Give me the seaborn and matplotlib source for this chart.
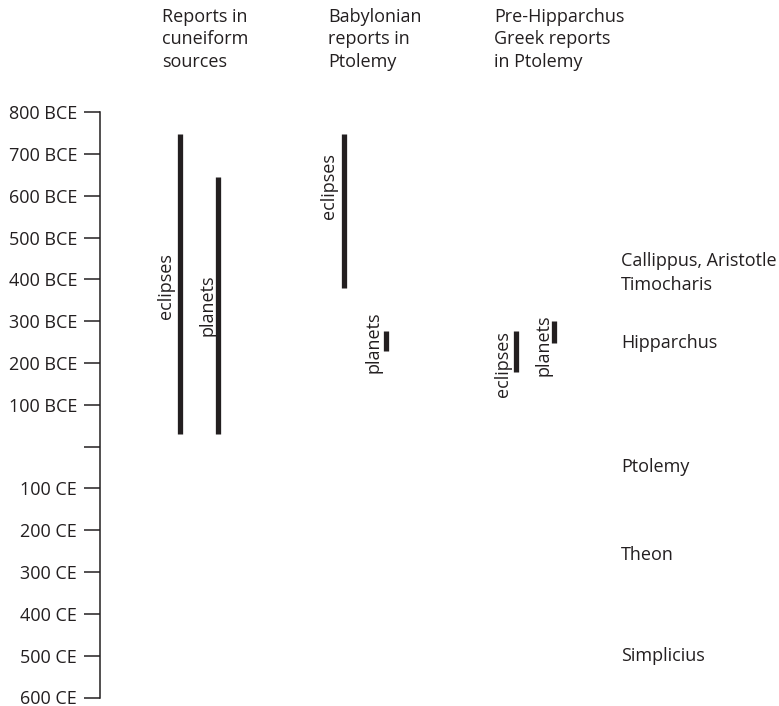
import matplotlib.pyplot as plt
import pandas as pd
import seaborn as sns

# Dados (anos negativos = BCE)
grupos = ["cuneiform", "cuneiform", "babylonian", "babylonian", "greek", "greek"]
tipos = ["eclipses", "planets", "eclipses", "planets", "eclipses", "planets"]
inicio = [-747, -646, -747, -276, -277, -301]
fim = [-31, -31, -380, -230, -178, -247]

cabecalhos = [
    "Reports in\ncuneiform\nsources",
    "Babylonian\nreports in\nPtolemy",
    "Pre-Hipparchus\nGreek reports\nin Ptolemy",
]

anos_ticks = list(range(-800, 601, 100))
rotulos_ticks = ["800 BCE", "700 BCE", "600 BCE", "500 BCE", "400 BCE", "300 BCE",
                 "200 BCE", "100 BCE", "", "100 CE", "200 CE", "300 CE", "400 CE",
                 "500 CE", "600 CE"]

nomes = ["Callippus, Aristotle", "Timocharis", "Hipparchus", "Ptolemy", "Theon", "Simplicius"]
anos_nomes = [-444, -386, -248, 48, 260, 501]

# Layout (em pixels da figura)
W, H = 779, 706
x_barras = {("cuneiform", "eclipses"): 180, ("cuneiform", "planets"): 218,
            ("babylonian", "eclipses"): 344, ("babylonian", "planets"): 386,
            ("greek", "eclipses"): 516, ("greek", "planets"): 554}
# posicao do texto rotacionado (x px, ano do centro)
pos_rotulo = {("cuneiform", "eclipses"): (166, -385), ("cuneiform", "planets"): (208, -338),
              ("babylonian", "eclipses"): (329, -624), ("babylonian", "planets"): (373, -250),
              ("greek", "eclipses"): (503, -198), ("greek", "planets"): (543, -243)}
x_cabecalhos = [162, 328, 494]

cor = "#231f20"

sns.set_style("white")
plt.rcParams["font.family"] = ["Open Sans", "DejaVu Sans"]

# Tabela longa: dois pontos por segmento
linhas = []
for i, (g, t, a, b) in enumerate(zip(grupos, tipos, inicio, fim)):
    x = x_barras[(g, t)]
    linhas.append({"seg": i, "x": x, "ano": a})
    linhas.append({"seg": i, "x": x, "ano": b})
df = pd.DataFrame(linhas)

fig = plt.figure(figsize=(W / 100, H / 100), dpi=100)
top_px, bot_px = 112.2, 697.5
ax = fig.add_axes([100 / W, 1 - bot_px / H, (W - 100) / W, (bot_px - top_px) / H])

sns.lineplot(data=df, x="x", y="ano", units="seg", estimator=None, sort=False,
             color=cor, linewidth=3.8, solid_capstyle="butt", ax=ax, legend=False)

ax.set_xlim(100, W)
ax.set_ylim(600, -800)
ax.set_xticks([])
ax.set_yticks(anos_ticks)
ax.set_yticklabels(rotulos_ticks, fontsize=13, color=cor)
ax.tick_params(axis="y", direction="out", length=11.5, width=1.1, color=cor, pad=5, left=True)
ax.set_xlabel("")
ax.set_ylabel("")
for s in ["top", "right", "bottom"]:
    ax.spines[s].set_visible(False)
ax.spines["left"].set_color(cor)
ax.spines["left"].set_linewidth(1.1)

for (g, t), (xr, yr) in pos_rotulo.items():
    ax.text(xr, yr, t, rotation=90, ha="center", va="center", fontsize=13, color=cor)

for nome, ano in zip(nomes, anos_nomes):
    ax.text(621, ano, nome, ha="left", va="center", fontsize=13, color=cor, clip_on=False)

for txt, xc in zip(cabecalhos, x_cabecalhos):
    fig.text(xc / W, 1 - 8 / H, txt, ha="left", va="top", fontsize=13, color=cor, linespacing=1.32)

fig.savefig("out.png", dpi=100)
